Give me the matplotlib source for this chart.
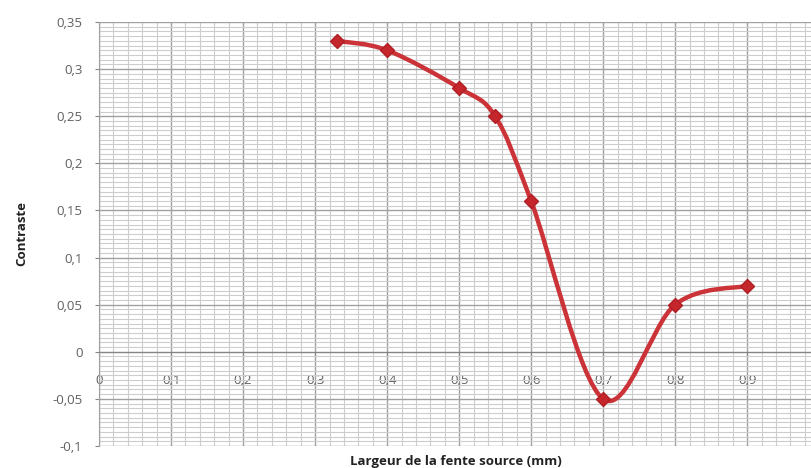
import numpy as np
import matplotlib
matplotlib.use('Agg')
from matplotlib import pyplot as plt
from matplotlib.path import Path
from matplotlib.patches import PathPatch
from matplotlib.ticker import MultipleLocator, FixedLocator

# données
largeur = [0.33, 0.4, 0.5, 0.55, 0.6, 0.7, 0.8, 0.9]
contraste = [0.33, 0.32, 0.28, 0.25, 0.16, -0.05, 0.05, 0.07]
x_ticks = [0, 0.1, 0.2, 0.3, 0.4, 0.5, 0.6, 0.7, 0.8, 0.9]
y_ticks = [-0.1, -0.05, 0, 0.05, 0.1, 0.15, 0.2, 0.25, 0.3, 0.35]


def virgule(v):
    s = ('%g' % round(v, 3)).replace('.', ',')
    return s


plt.rcParams['font.family'] = ['Open Sans', 'DejaVu Sans']

fig = plt.figure(figsize=(8.12, 4.68), dpi=100)
ax = fig.add_axes([0.122, 0.047, 0.878, 0.906])

# courbe lissée (bezier, comme Excel)
pts = np.column_stack([largeur, contraste])
n = len(pts)
verts = [pts[0]]
codes = [Path.MOVETO]
for i in range(n - 1):
    p0 = pts[i - 1] if i > 0 else pts[i]
    p1 = pts[i]
    p2 = pts[i + 1]
    p3 = pts[i + 2] if i + 2 < n else pts[i + 1]
    c1 = p1 + (p2 - p0) / 6
    c2 = p2 - (p3 - p1) / 6
    verts += [c1, c2, p2]
    codes += [Path.CURVE4] * 3
ax.add_patch(PathPatch(Path(verts, codes), fill=False, edgecolor='#cc3338',
                       linewidth=3.2, zorder=3, capstyle='round', joinstyle='round'))
ax.plot(largeur, contraste, linestyle='none', marker='D', markersize=7,
        color='#c4262c', markeredgecolor='#b01e25', zorder=4)

ax.set_xlim(0, 0.99)
ax.set_ylim(-0.1, 0.35)

ax.xaxis.set_major_locator(FixedLocator(x_ticks))
ax.yaxis.set_major_locator(FixedLocator(y_ticks))
ax.xaxis.set_minor_locator(MultipleLocator(0.02))
ax.yaxis.set_minor_locator(MultipleLocator(0.005))
ax.set_xticklabels([virgule(v) for v in x_ticks])
ax.set_yticklabels([virgule(v) for v in y_ticks])

ax.grid(which='major', color='#a0a0a0', linewidth=1.0)
ax.grid(which='minor', color='#cdcdcd', linewidth=0.8)
ax.set_axisbelow(True)

for s in ['top', 'right']:
    ax.spines[s].set_visible(False)
ax.spines['bottom'].set_position(('data', 0))
ax.spines['bottom'].set_color('#858585')
ax.spines['left'].set_color('#a0a0a0')

ax.tick_params(axis='x', which='major', labelsize=9.5, labelcolor='#606060',
               length=3, color='#858585', pad=13)
ax.tick_params(axis='y', which='major', labelsize=9.5, labelcolor='#606060',
               length=3, color='#858585', pad=9)
ax.tick_params(which='minor', length=0)

fig.text(0.027, 0.5, 'Contraste', rotation=90, fontsize=9.5,
         fontweight='bold', ha='center', va='center', color='#222222')
fig.text(0.562, 0.013, 'Largeur de la fente source (mm)', fontsize=9.5,
         fontweight='bold', ha='center', va='center', color='#222222')

plt.savefig('out.png', dpi=100)
